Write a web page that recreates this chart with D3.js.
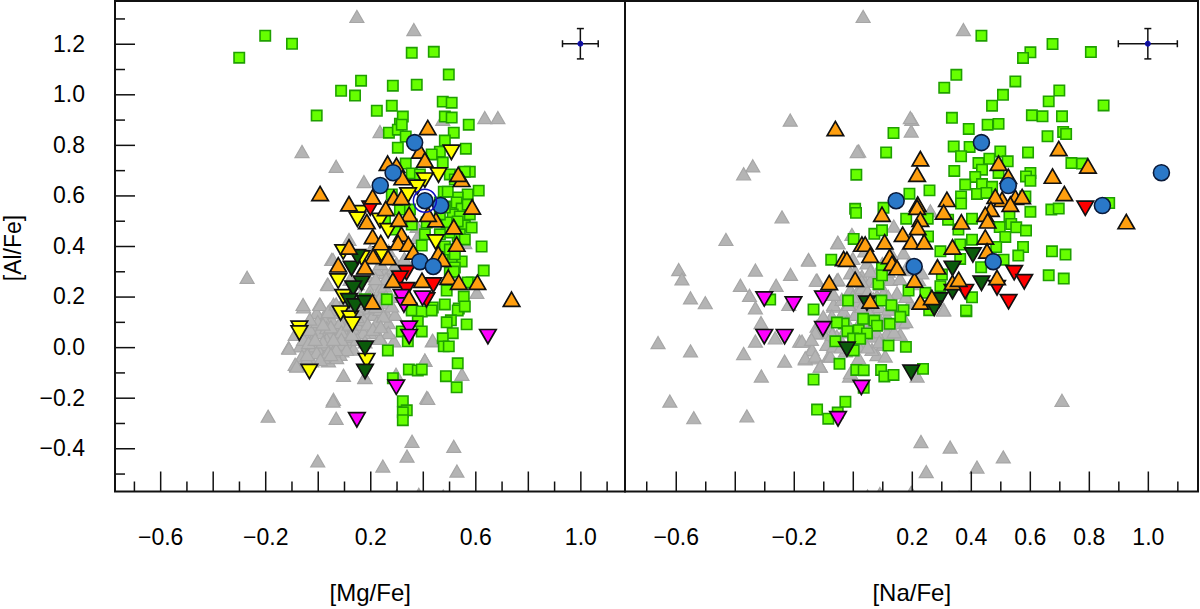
<!DOCTYPE html>
<html>
<head>
<meta charset="utf-8">
<script src="https://cdn.jsdelivr.net/npm/d3@7"></script>
<style>
  html, body { margin: 0; padding: 0; background: #fff; }
  svg { display: block; }
  text { font-family: "Liberation Sans", Arial, sans-serif; fill: #000; }
</style>
</head>
<body>
<div id="chart"></div>
<script>
// axis ticks
const xMajor = [-0.6, -0.4, -0.2, 0, 0.2, 0.4, 0.6, 0.8, 1.0];
const xMinor = [-0.7, -0.5, -0.3, -0.1, 0.1, 0.3, 0.5, 0.7, 0.9, 1.1];
const yMajor = [1.2, 1.0, 0.8, 0.6, 0.4, 0.2, 0, -0.2, -0.4];
const yMinor = [1.3, 1.1, 0.9, 0.7, 0.5, 0.3, 0.1, -0.1, -0.3, -0.5];
const mgLabels = [-0.6, -0.2, 0.2, 0.6, 1.0];
const naLabels = [-0.6, -0.2, 0.2, 0.4, 0.6, 0.8, 1.0];

// typical error bar
const errPoint = [1.0, 1.2];
const mgErr = 0.068, naErr = 0.1, alErr = 0.06;

// blue circles
const circlesMg = [[.369,.809],[.287,.69],[.238,.639],[.408,.579],[.468,.56],[.389,.338],[.44,.319]];
const circlesNa = [[.436,.809],[1.046,.69],[.527,.639],[.147,.579],[.846,.56],[.476,.338],[.208,.319]];
const ringMg = [[.408,.579]];

// orange triangles
const orangeMg = [[.419,.867],[.389,.774],[.408,.739],[.266,.726],[.3,.718],[.322,.669],[.009,.606],[.209,.593],[.119,.566],[.29,.59],[.319,.59],[.259,.547],[.348,.524],[.187,.495],[.309,.504],[.45,.502],[.42,.524],[.518,.475],[.588,.553],[.548,.662],[.535,.682],[.209,.436],[.319,.445],[.24,.412],[.306,.412],[.345,.406],[.364,.375],[.529,.406],[.119,.395],[.211,.357],[.268,.353],[.078,.324],[.18,.316],[.459,.369],[.475,.346],[.286,.263],[.397,.263],[.497,.275],[.537,.255],[.608,.255],[.738,.188],[.348,.194],[.208,.178]];
const orangeNa = [[-.059,.863],[.229,.744],[.218,.682],[.099,.524],[.22,.564],[.218,.552],[.319,.583],[.308,.533],[.229,.504],[.22,.472],[.368,.494],[.169,.445],[.198,.415],[.242,.415],[.108,.415],[.031,.406],[.042,.406],[.059,.362],[-.031,.349],[-.02,.346],[.125,.357],[.133,.33],[.15,.313],[.338,.395],[.287,.316],[.449,.434],[.455,.379],[.494,.726],[.506,.583],[.483,.595],[.551,.591],[.574,.594],[.534,.564],[.527,.674],[.468,.544],[.449,.524],[.457,.498],[.209,.264],[.008,.267],[-.08,.254],[.059,.181],[.229,.177],[.268,.195],[.338,.254],[.359,.267],[.489,.274],[.698,.784],[.797,.715],[.677,.675],[.717,.606],[.927,.495]];

// yellow down triangles
const yellowMg = [[.509,.772],[.46,.682],[.408,.662],[.379,.634],[.344,.603],[.161,.533],[.151,.507],[.237,.502],[.268,.462],[.449,.417],[.097,.378],[.167,.354],[.243,.37],[.078,.263],[.097,.201],[.087,.136],[.123,.116],[.132,.092],[-.07,.076],[-.07,.057],[-.032,-.095],[.186,-.052]];

// dark green down triangles
const darkMg = [[.129,.313],[.151,.359],[.167,.254],[.135,.234],[.119,.185],[.142,.164],[.18,.177],[.18,-.003],[.18,-.095]];
const darkNa = [[.407,.366],[.338,.313],[.436,.254],[.338,.221],[.048,.175],[.293,.188],[.276,.155],[-.02,-.007],[.198,-.098]];

// red down triangles
const redMg = [[.2,.551],[.338,.296],[.313,.274],[.338,.228],[.44,.247],[.414,.188]];
const redNa = [[.788,.551],[.547,.296],[.581,.26],[.528,.181],[.489,.236],[.381,.221]];

// magenta down triangles
const magentaMg = [[.319,.201],[.328,.168],[.399,.195],[.348,.076],[.348,.043],[.648,.043],[.299,-.157],[.149,-.286]];
const magentaNa = [[-.3,.192],[-.201,.172],[-.101,.195],[-.101,.074],[-.3,.043],[-.231,.043],[.029,-.158],[-.05,-.282]];

// green squares
const greenMg = [[-.299,1.145],[-.2,1.232],[-.098,1.2],[-.004,.916],[.089,1.014],[.165,1.054],[.142,.995],[.286,1.034],[.225,.935],[.358,1.164],[.442,1.168],[.499,1.078],[.377,1.038],[.282,.955],[.271,.848],[.313,.884],[.324,.912],[.305,.86],[.305,.789],[.335,.833],[.32,.88],[.476,.971],[.51,.967],[.484,.912],[.51,.908],[.575,.88],[.518,.848],[.484,.817],[.564,.785],[.465,.773],[.434,.762],[.476,.73],[.335,.726],[.579,.694],[.56,.694],[.358,.687],[.389,.683],[.503,.683],[.522,.663],[.613,.619],[.48,.615],[.571,.604],[.533,.592],[.495,.615],[.465,.572],[.503,.556],[.529,.572],[.548,.548],[.313,.544],[.514,.525],[.541,.517],[.56,.481],[.415,.493],[.491,.493],[.533,.438],[.503,.453],[.396,.402],[.484,.398],[.624,.398],[.548,.339],[.51,.347],[.476,.347],[.522,.315],[.503,.295],[.632,.303],[.518,.299],[.586,.256],[.571,.256],[.491,.224],[.556,.2],[.263,.189],[.484,.169],[.537,.153],[.438,.157],[.358,.153],[.18,.189],[.358,.145],[.396,.141],[.434,.145],[.533,.145],[.56,.161],[.381,.102],[.507,.106],[.491,.098],[.567,.09],[.514,.055],[.396,.062],[.32,.062],[.343,.023],[.476,.035],[.48,.003],[.499,.003],[.267,-.013],[.347,-.088],[.381,-.092],[.396,-.088],[.533,-.064],[.488,-.115],[.286,-.123],[.529,-.159],[.324,-.214],[.339,-.25],[.324,-.258],[.324,-.289],[.282,.604],[.351,.544],[.256,.505],[.294,.465],[.358,.485],[.408,.446],[.465,.446],[.579,.525],[.586,.473],[.503,.386],[.541,.446],[.465,.525],[.484,.552],[.571,.564],[.533,.497],[.56,.426],[.522,.367]];
const greenNa = [[.677,1.199],[.602,1.166],[.577,1.144],[.807,1.167],[.551,1.051],[.7,1.015],[.664,.972],[.85,.956],[.509,.998],[.607,.917],[.643,.913],[.709,.913],[.436,1.232],[.351,1.077],[.31,1.026],[.336,.907],[.472,.955],[.457,.88],[.494,.883],[.393,.863],[.66,.834],[.713,.851],[.723,.843],[.342,.794],[.396,.792],[.367,.755],[.5,.774],[.594,.77],[.426,.728],[.463,.745],[.525,.735],[.741,.728],[.777,.726],[.438,.702],[.344,.697],[.494,.689],[.602,.689],[.587,.675],[.602,.658],[.415,.673],[.381,.643],[.438,.645],[.472,.634],[.421,.606],[.453,.61],[.585,.596],[.367,.596],[.367,.568],[.602,.535],[.673,.544],[.698,.548],[.869,.57],[.404,.508],[.531,.517],[.498,.475],[.537,.487],[.554,.474],[.587,.461],[.517,.436],[.404,.425],[.486,.396],[.577,.396],[.561,.362],[.675,.379],[.721,.366],[.511,.346],[.364,.349],[.435,.316],[.664,.284],[.715,.271],[.404,.197],[.385,.142],[.364,.406],[.358,.465],[.138,.847],[.113,.77],[.012,.682],[.008,.547],[.011,.531],[.192,.607],[.26,.62],[.104,.551],[.181,.508],[.254,.508],[.003,.428],[.073,.448],[.099,.462],[.255,.438],[.323,.504],[.297,.379],[.302,.287],[.297,.241],[-.073,.346],[.087,.25],[.099,.313],[.099,.284],[.189,.224],[.246,.215],[.097,.184],[.131,.166],[.172,.146],[.161,.12],[.035,.112],[.073,.105],[.125,.092],[.082,.085],[-.031,.093],[-.054,.097],[-.018,.063],[.02,.067],[.048,.054],[.001,.034],[-.059,.023],[.025,.033],[.003,-.013],[.121,.006],[.18,.001],[-.045,-.066],[.012,-.09],[.037,-.091],[.096,-.09],[.107,-.116],[.138,-.11],[.238,-.086],[-.133,-.128],[-.025,-.216],[-.121,-.247],[.037,-.161],[.384,.145],[.259,.146],[-.28,.188],[-.133,.149],[-.016,.184],[-.083,-.283],[-.051,-.259]];

// gray triangles
const grayMg = [[.119,.425],[.053,.346],[.037,.248],[-.054,.159],[.007,.169],[.06,.169],[.028,.129],[-.023,.096],[-.086,.05],[-.042,.057],[.009,.09],[.053,.109],[-.111,-.003],[-.067,.004],[-.016,.037],[.022,.057],[.072,.07],[.117,.043],[.168,.063],[.199,.057],[-.029,-.016],[.022,.01],[.066,.03],[.092,-.016],[.123,.01],[-.08,-.073],[-.023,-.055],[.041,-.055],[.085,-.029],[.098,-.112],[.18,-.121],[.237,.037],[.29,.024],[.269,.096],[.263,.129],[.294,.129],[.193,.129],[.218,.248],[.256,.294],[.225,.307],[.187,.281],[.123,.267],[.199,.221],[.237,.228],[.25,.175],[.187,.175],[-.004,.136],[.028,.103],[.072,.136],[.11,.083],[-.054,.03],[-.01,.004],[.053,.004],[.092,.01],[.009,-.022],[-.06,-.036],[.047,.057],[.142,.043],[.149,.09],[.174,.109],[.212,.129],[.104,.109],[-.016,.07],[.269,.057],[.408,-.053],[.436,.024],[.06,-.207],[.415,-.2],[-.035,.017],[.034,.03],[.079,.043],[.003,.057],[.11,.043],[.034,.076],[.085,.096],[.13,.122],[.117,.149],[.149,.149],[.168,.162],[.199,.155],[.237,.149],[.047,.149],[.092,.169],[-.029,.07],[-.086,-.069],[.072,-.042],[.022,-.042],[-.004,-.022],[-.042,-.049],[.136,-.009],[.06,-.016],[.136,.07],[.174,.057],[.225,.096],[.25,.122],[.282,.162],[.237,.195],[.212,.182],[.256,.241],[.288,.313],[.313,.294],[.27,.38],[.24,.33],[.3,.33],[.33,.35],[.2,.38],[.26,.27],[.31,.26],[.17,.3],[.149,1.307],[.366,1.255],[.636,.907],[.686,.907],[.476,.9],[.237,.852],[-.06,.773],[.07,.714],[.176,.654],[-.269,.275],[.378,.477],[.378,.433],[.56,.413],[.058,.346],[.606,.216],[.039,.247],[-.056,.168],[.009,.168],[.058,-.214],[-.189,-.274],[.07,-.282],[.359,-.373],[.518,-.393],[.34,-.432],[0,-.451],[.248,-.471],[.53,-.491],[.419,-.203],[.179,-.12],[.298,-.108],[.549,-.108],[.408,-.052],[.438,.026],[.237,.034],[-.11,-.005],[-.08,-.076],[.3,-.59],[.385,-.583],[.478,-.59],[0,.1],[.04,.14],[.02,.02],[.05,.08],[.09,.06],[.12,.09],[.15,.12],[.1,.14],[.07,.17],[.13,.17],[.16,.2],[.19,.09],[.21,.07],[.24,.08],[.15,.03],[.18,.02],[.11,-.01],[.07,-.01],[.04,-.02],[-.01,.03],[-.04,-.03],[.01,-.05],[.05,-.03],[.09,.03],[.13,.05],[.02,.09],[-.03,.11],[.06,.03],[.2,.2],[.22,.16],[.15,.18],[.26,.2],[.3,.2],[.22,.27],[.15,.25]];
const grayNa = [[-.43,.425],[-.59,.306],[-.579,.269],[-.55,.194],[-.5,.175],[-.33,.304],[-.381,.244],[-.26,.244],[-.211,.287],[-.15,.346],[-.121,.264],[-.051,.414],[-.003,.445],[-.054,.264],[-.35,.204],[-.33,.155],[-.311,.096],[-.33,.023],[-.263,.036],[-.18,.023],[-.217,.168],[-.66,.017],[-.55,-.016],[-.37,-.026],[-.231,-.056],[-.31,-.115],[-.141,-.012],[-.161,-.047],[-.127,-.043],[-.11,-.076],[-.082,-.036],[-.011,-.115],[-.62,-.214],[-.539,-.28],[-.359,-.273],[-.121,.082],[-.065,.161],[-.099,.056],[-.076,.017],[-.212,.897],[.198,.854],[.2,.9],[.02,.775],[-.339,.716],[-.37,.685],[-.24,.514],[.139,.478],[.263,.538],[.308,.149],[.167,.096],[.035,1.307],[.375,1.255],[.195,.907],[.015,.773],[.709,-.211],[.231,-.374],[.33,-.396],[.51,-.435],[.421,-.475],[.249,-.493],[.05,-.59],[.092,-.58],[.198,-.575],[.36,-.595],[-.15,.343],[-.05,.412],[-.124,.264],[-.05,.267],[-.065,.168],[-.037,.188],[-.008,.227],[.031,.28],[.048,.333],[.082,.293],[.127,.267],[.15,.214],[.104,.214],[.059,.26],[.02,.181],[-.071,.122],[-.11,.076],[-.127,.056],[-.082,.082],[-.054,.043],[-.088,.01],[-.172,.023],[-.138,-.01],[-.161,-.043],[-.127,-.036],[-.11,-.076],[-.076,-.036],[.02,-.043],[.082,-.03],[.11,-.036],[.048,.003],[-.008,-.102],[.218,-.115],[.161,.05],[.161,.096],[.195,.175],[.308,.146],[.223,.267],[.184,.306],[.172,.372],[.234,.293],[.048,.096],[.082,.129],[.008,.129],[-.031,.142],[-.065,.208],[.014,.214],[.082,.201],[.138,.168],[.116,.056],[.071,.043],[.037,.01],[-.008,.069],[-.042,.03],[.104,.01],[.065,-.01],[.02,.003],[-.025,-.016],[.059,.161],[.116,.122],[-.014,.168],[-.065,.003],[.031,.234],[.093,.247],[.008,.3],[-.008,.293],[.127,.346],[0,.2],[.03,.16],[.06,.13],[.09,.16],[.12,.2],[.15,.15],[.18,.2],[.05,.22],[.08,.26],[.12,.3],[.03,.26],[.06,.3],[.1,.33],[.13,.37],[.08,.06],[.05,.06],[.02,.09],[-.02,.1],[.01,.05],[-.03,.06],[.11,.09],[.14,.06],[.09,.02],[.05,0],[-.01,0],[-.04,0],[-.07,.05],[.18,.1],[.07,.19],[.12,.15],[.16,.27],[.19,.33],[0,.35],[.04,.38],[-.1,.12],[-.14,.03],[.2,.25]];

const width = 1200, height = 609;
const plotTop = 1, plotBottom = 491.5;

const svg = d3.select("#chart").append("svg")
    .attr("width", width)
    .attr("height", height);

const y = d3.scaleLinear().domain([-0.571, 1.369]).range([plotBottom, plotTop]);

const triUp = d3.symbol().type(d3.symbolTriangle).size(118)();
const triGray = d3.symbol().type(d3.symbolTriangle).size(85)();
const square = d3.symbol().type(d3.symbolSquare).size(108)();

// d3 triangles sit on their centroid, the marks here are read at mid height
function drawPoints(g, x, data, path, fill, stroke, sw, flip, shift) {
    g.append("g").selectAll("path")
        .data(data)
        .enter()
        .append("path")
        .attr("d", path)
        .attr("fill", fill)
        .attr("stroke", stroke)
        .attr("stroke-width", sw)
        .attr("transform", d => `translate(${x(d[0])},${y(d[1])})` + (flip ? " rotate(180)" : "") + ` translate(0,${shift || 0})`);
}

function drawPanel(id, left, right, labels, err, title, d) {
    const x = d3.scaleLinear().domain([-0.772, 1.17]).range([left, right]);

    svg.append("clipPath").attr("id", id)
        .append("rect")
        .attr("x", left).attr("y", plotTop)
        .attr("width", right - left).attr("height", plotBottom - plotTop);

    const marks = svg.append("g").attr("clip-path", `url(#${id})`);

    drawPoints(marks, x, d.gray, triGray, "#b4b4b4", "#a6a6a6", 1.2, false, 1.8);
    drawPoints(marks, x, d.green, square, "#66ff00", "#1fa000", 1.6);
    if (d.yellow) drawPoints(marks, x, d.yellow, triUp, "#ffff00", "#111", 1.7, true, 2);
    drawPoints(marks, x, d.dark, triUp, "#0b5a0b", "#111", 1.7, true, 2);
    drawPoints(marks, x, d.red, triUp, "#ff0000", "#111", 1.7, true, 2);
    drawPoints(marks, x, d.magenta, triUp, "#ff00ff", "#111", 1.7, true, 2);
    drawPoints(marks, x, d.orange, triUp, "#ff9f0f", "#111", 1.7, false, 2);

    marks.append("g").selectAll("circle")
        .data(d.circles)
        .enter()
        .append("circle")
        .attr("cx", p => x(p[0]))
        .attr("cy", p => y(p[1]))
        .attr("r", 8)
        .attr("fill", "#2a78c8")
        .attr("stroke", "#0a1a3a")
        .attr("stroke-width", 1.6);

    if (d.ring) {
        marks.append("g").selectAll("circle")
            .data(d.ring)
            .enter()
            .append("circle")
            .attr("cx", p => x(p[0]))
            .attr("cy", p => y(p[1]))
            .attr("r", 11.5)
            .attr("fill", "none")
            .attr("stroke", "#1010c0")
            .attr("stroke-width", 1.5);
    }

    // error bar
    const e = svg.append("g").attr("stroke", "#111").attr("stroke-width", 1.5);
    const ex = x(errPoint[0]), ey = y(errPoint[1]);
    const x0 = x(errPoint[0] - err), x1 = x(errPoint[0] + err);
    const y0 = y(errPoint[1] - alErr), y1 = y(errPoint[1] + alErr);
    e.append("line").attr("x1", x0).attr("x2", x1).attr("y1", ey).attr("y2", ey);
    e.append("line").attr("x1", ex).attr("x2", ex).attr("y1", y0).attr("y2", y1);
    e.append("line").attr("x1", x0).attr("x2", x0).attr("y1", ey - 3.5).attr("y2", ey + 3.5);
    e.append("line").attr("x1", x1).attr("x2", x1).attr("y1", ey - 3.5).attr("y2", ey + 3.5);
    e.append("line").attr("x1", ex - 3.5).attr("x2", ex + 3.5).attr("y1", y0).attr("y2", y0);
    e.append("line").attr("x1", ex - 3.5).attr("x2", ex + 3.5).attr("y1", y1).attr("y2", y1);
    svg.append("circle")
        .attr("cx", ex).attr("cy", ey).attr("r", 2.5)
        .attr("fill", "#101090").attr("stroke", "#1010c0");

    // x ticks, inward
    const major = svg.append("g")
        .attr("transform", `translate(0,${plotBottom})`)
        .call(d3.axisBottom(x).tickValues(xMajor).tickSize(-20).tickPadding(37)
            .tickFormat(v => labels.some(l => Math.abs(l - v) < 1e-6) ? d3.format(".1f")(v).replace("-", "\u2212") : ""));
    const minor = svg.append("g")
        .attr("transform", `translate(0,${plotBottom})`)
        .call(d3.axisBottom(x).tickValues(xMinor).tickSize(-10).tickFormat(""));
    [major, minor].forEach(a => {
        a.select(".domain").remove();
        a.selectAll("line").attr("stroke", "#111").attr("stroke-width", 1.5);
        a.selectAll("text").attr("font-size", 23);
    });

    svg.append("text")
        .attr("x", (x(0.2)))
        .attr("y", 601)
        .attr("text-anchor", "middle")
        .attr("font-size", 24)
        .text(title);

    // panel frame
    svg.append("rect")
        .attr("x", left).attr("y", plotTop)
        .attr("width", right - left).attr("height", plotBottom - plotTop)
        .attr("fill", "none")
        .attr("stroke", "#111")
        .attr("stroke-width", 2);
}

drawPanel("clipMg", 115, 625, mgLabels, mgErr, "[Mg/Fe]", {
    gray: grayMg, green: greenMg, yellow: yellowMg, dark: darkMg,
    red: redMg, magenta: magentaMg, orange: orangeMg, circles: circlesMg, ring: ringMg
});
drawPanel("clipNa", 625, 1198, naLabels, naErr, "[Na/Fe]", {
    gray: grayNa, green: greenNa, dark: darkNa,
    red: redNa, magenta: magentaNa, orange: orangeNa, circles: circlesNa
});

// y axis on the left panel only
const yAxis = svg.append("g")
    .attr("transform", "translate(115,0)")
    .call(d3.axisLeft(y).tickValues(yMajor).tickSize(-20).tickPadding(30)
        .tickFormat(v => d3.format(".1f")(v).replace("-", "\u2212")));
const yAxisMinor = svg.append("g")
    .attr("transform", "translate(115,0)")
    .call(d3.axisLeft(y).tickValues(yMinor).tickSize(-10).tickFormat(""));
[yAxis, yAxisMinor].forEach(a => {
    a.select(".domain").remove();
    a.selectAll("line").attr("stroke", "#111").attr("stroke-width", 1.5);
    a.selectAll("text").attr("font-size", 23);
});

svg.append("text")
    .attr("transform", "translate(21,248) rotate(-90)")
    .attr("text-anchor", "middle")
    .attr("font-size", 23)
    .text("[Al/Fe]");
</script>
</body>
</html>
